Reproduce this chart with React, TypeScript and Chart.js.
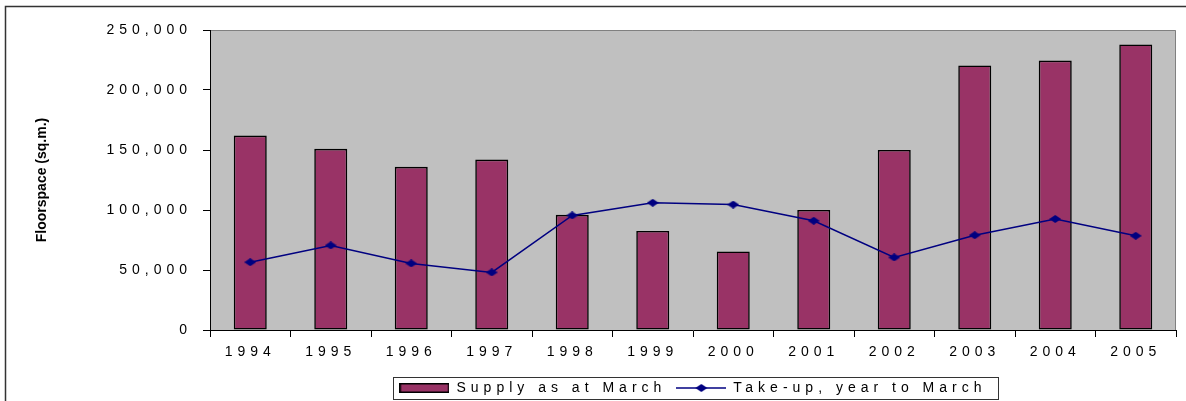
import React, { useEffect, useRef } from 'react';
import { Chart, registerables } from 'chart.js';

Chart.register(...registerables);

const years = ['1994', '1995', '1996', '1997', '1998', '1999', '2000', '2001', '2002', '2003', '2004', '2005'];
const supplyAtMarch = [162000, 151000, 136000, 142000, 96000, 82500, 65500, 100000, 150000, 220500, 224500, 238000];
const takeUpYearToMarch = [56500, 70500, 55500, 48000, 95500, 106000, 104500, 91000, 60500, 79000, 92500, 78500];
const yMin = 0;
const yMax = 250000;
const yStep = 50000;
const seriesNames = ['Supply as at March', 'Take-up, year to March'];
const yAxisTitle = 'Floorspace (sq.m.)';

const BAR_COLOR = '#993366';
const LINE_COLOR = '#000080';
const PLOT_BG = '#C0C0C0';
const FONT = '"Liberation Sans", Arial, sans-serif';
const SPACING = '5px';

function makeDiamond(w: number, h: number, color: string) {
  const c = document.createElement('canvas');
  c.width = w;
  c.height = h;
  const g = c.getContext('2d')!;
  g.fillStyle = color;
  g.beginPath();
  g.moveTo(w / 2, 0);
  g.lineTo(w, h / 2);
  g.lineTo(w / 2, h);
  g.lineTo(0, h / 2);
  g.closePath();
  g.fill();
  return c;
}

function makeBarSwatch() {
  const c = document.createElement('canvas');
  c.width = 50;
  c.height = 10;
  const g = c.getContext('2d')!;
  g.fillStyle = BAR_COLOR;
  g.fillRect(0, 0, 50, 10);
  g.strokeStyle = '#000';
  g.lineWidth = 1.5;
  g.strokeRect(0.75, 0.75, 48.5, 8.5);
  return c;
}

function makeLineSwatch() {
  const c = document.createElement('canvas');
  c.width = 50;
  c.height = 10;
  const g = c.getContext('2d')!;
  g.strokeStyle = LINE_COLOR;
  g.lineWidth = 1.5;
  g.beginPath();
  g.moveTo(0, 5);
  g.lineTo(50, 5);
  g.stroke();
  g.drawImage(makeDiamond(12, 8, LINE_COLOR), 19, 1);
  return c;
}

const decorPlugin = {
  id: 'decor',
  beforeUpdate(chart: any) {
    chart.ctx.letterSpacing = SPACING;
  },
  beforeDraw(chart: any) {
    const ctx = chart.ctx;
    const a = chart.chartArea;
    ctx.letterSpacing = SPACING;
    ctx.save();
    ctx.fillStyle = PLOT_BG;
    ctx.fillRect(a.left, a.top, a.right - a.left, a.bottom - a.top);
    ctx.strokeStyle = '#808080';
    ctx.lineWidth = 1;
    ctx.beginPath();
    ctx.moveTo(a.left, a.top + 0.5);
    ctx.lineTo(a.right - 0.5, a.top + 0.5);
    ctx.lineTo(a.right - 0.5, a.bottom);
    ctx.stroke();
    ctx.strokeStyle = '#333';
    ctx.lineWidth = 1.5;
    ctx.strokeRect(5.5, 6.5, chart.width + 20, chart.height + 20);
    ctx.restore();
  },
  afterDraw(chart: any) {
    const ctx = chart.ctx;
    const a = chart.chartArea;
    ctx.save();
    ctx.letterSpacing = '0px';
    ctx.translate(42, (a.top + a.bottom) / 2);
    ctx.rotate(-Math.PI / 2);
    ctx.font = `bold 14px ${FONT}`;
    ctx.fillStyle = '#000';
    ctx.textAlign = 'center';
    ctx.textBaseline = 'middle';
    ctx.fillText(yAxisTitle, 0, 0);
    ctx.restore();

    const hb = chart.legend && chart.legend.legendHitBoxes;
    if (hb && hb.length) {
      let left = Infinity;
      let right = -Infinity;
      hb.forEach((b: any) => {
        left = Math.min(left, b.left);
        right = Math.max(right, b.left + b.width);
      });
      const cy = hb[0].top + hb[0].height / 2;
      ctx.save();
      ctx.strokeStyle = '#333';
      ctx.lineWidth = 1;
      const bl = Math.round(left - 6);
      const br = Math.round(right + 11);
      ctx.strokeRect(bl + 0.5, Math.round(cy - 11) + 0.5, br - bl, 22);
      ctx.restore();
    }
    ctx.letterSpacing = SPACING;
  },
};

export default function App() {
  const ref = useRef<HTMLCanvasElement | null>(null);

  useEffect(() => {
    document.body.style.margin = '0';
    document.body.style.overflow = 'hidden';
    document.documentElement.style.overflow = 'hidden';
    const canvas = ref.current!;
    const diamond = makeDiamond(12, 8, LINE_COLOR);
    const barSwatch = makeBarSwatch();
    const lineSwatch = makeLineSwatch();

    const chart = new Chart(canvas, {
      type: 'bar',
      data: {
        labels: years,
        datasets: [
          {
            type: 'bar',
            label: seriesNames[0],
            data: supplyAtMarch,
            backgroundColor: BAR_COLOR,
            borderColor: '#000',
            borderWidth: 1.6,
            borderSkipped: false,
            barPercentage: 0.41,
            categoryPercentage: 1,
            order: 2,
          },
          {
            type: 'line',
            label: seriesNames[1],
            data: takeUpYearToMarch,
            borderColor: LINE_COLOR,
            backgroundColor: LINE_COLOR,
            borderWidth: 1.5,
            tension: 0,
            pointStyle: diamond,
            pointRadius: 5,
            pointHoverRadius: 5,
            order: 1,
          },
        ],
      } as any,
      options: {
        animation: false,
        responsive: false,
        events: [],
        layout: { padding: { left: 0, top: 30, right: 10, bottom: 15 } },
        plugins: {
          tooltip: { enabled: false },
          legend: {
            position: 'bottom',
            fullSize: false,
            labels: {
              color: '#000',
              font: { family: FONT, size: 14 },
              padding: 10,
              usePointStyle: true,
              pointStyleWidth: 50,
              generateLabels: () => [
                { text: seriesNames[0], pointStyle: barSwatch, datasetIndex: 0, fillStyle: BAR_COLOR, strokeStyle: '#000', lineWidth: 0, hidden: false },
                { text: seriesNames[1], pointStyle: lineSwatch, datasetIndex: 1, fillStyle: LINE_COLOR, strokeStyle: LINE_COLOR, lineWidth: 0, hidden: false },
              ],
            },
          },
        },
        scales: {
          x: {
            grid: { display: true, drawOnChartArea: false, offset: true, tickLength: 7, color: '#000', tickColor: '#000' },
            border: { display: true, color: '#000', width: 1 },
            ticks: { color: '#000', font: { family: FONT, size: 14 }, padding: 7, maxRotation: 0, autoSkip: false },
            afterFit: (s: any) => {
              s.height = 41;
            },
          },
          y: {
            min: yMin,
            max: yMax,
            grid: { display: true, drawOnChartArea: false, tickLength: 7, color: '#000', tickColor: '#000' },
            border: { display: true, color: '#000', width: 1 },
            ticks: {
              stepSize: yStep,
              color: '#000',
              font: { family: FONT, size: 14 },
              padding: 11,
              callback: (v: any) => Number(v).toLocaleString('en-US'),
            },
            afterFit: (s: any) => {
              s.width = 210;
            },
          },
        },
      } as any,
      plugins: [decorPlugin as any],
    });
    return () => chart.destroy();
  }, []);

  return <canvas ref={ref} width={1186} height={420} style={{ display: 'block' }} />;
}
